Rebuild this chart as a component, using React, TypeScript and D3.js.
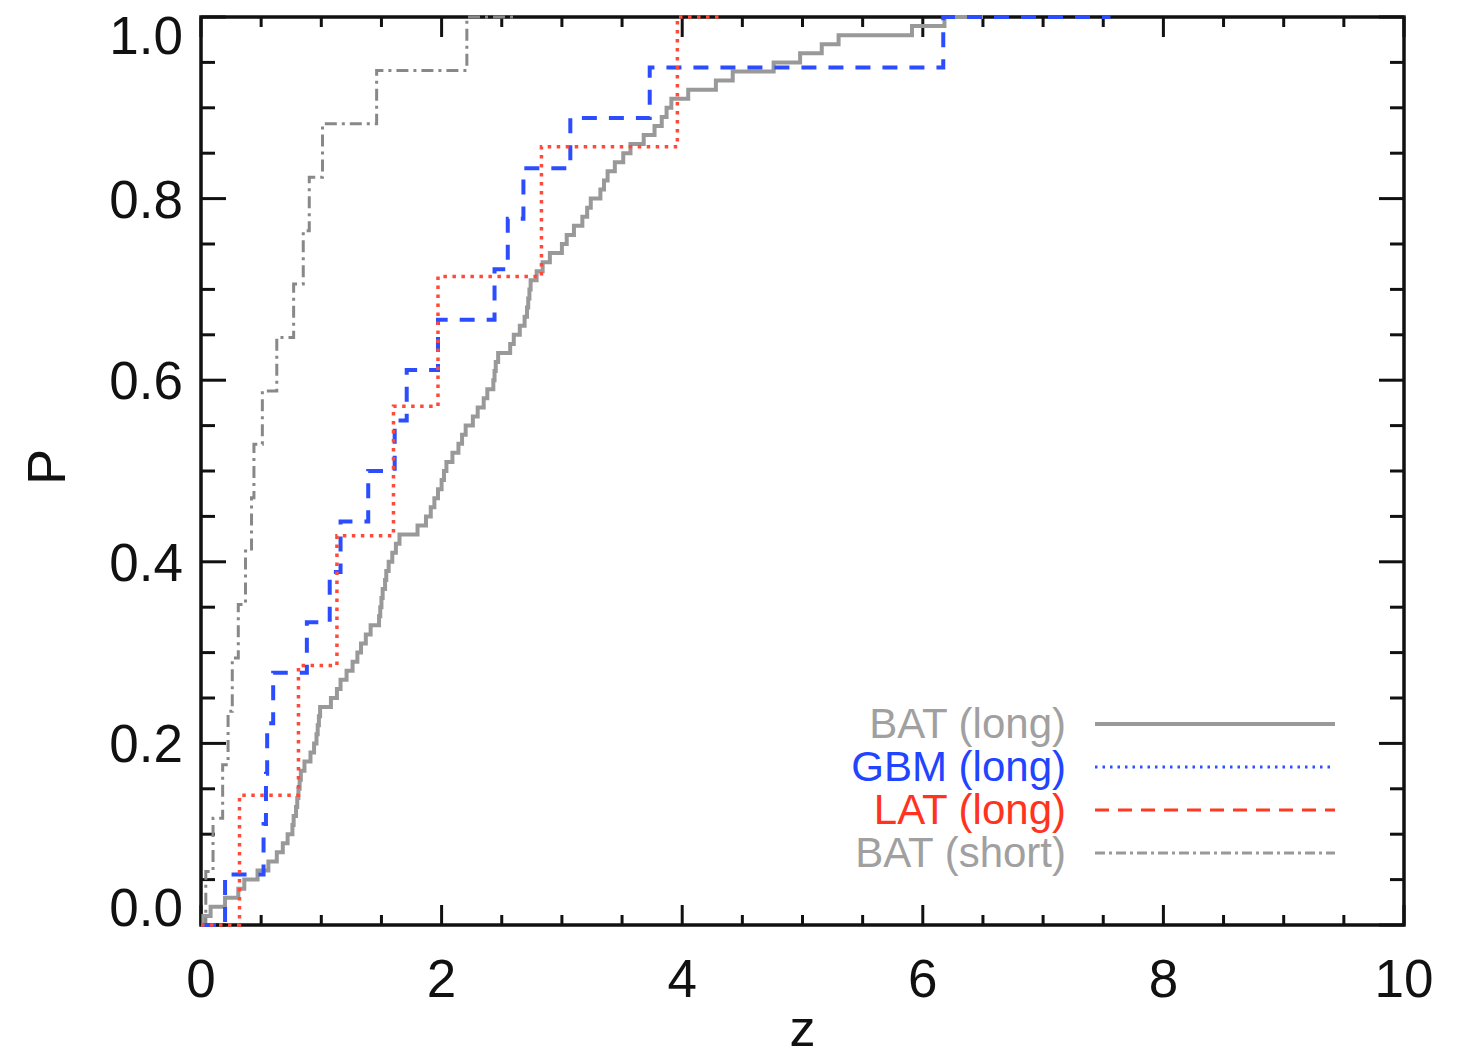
import React, { useEffect, useRef } from 'react';
import * as d3 from 'd3';

// sorted redshifts
const batLongZ = [
  0.02, 0.08, 0.2, 0.31, 0.36, 0.47, 0.56, 0.63, 0.68, 0.72,
  0.76, 0.77, 0.79, 0.8, 0.81, 0.82, 0.83, 0.86, 0.91, 0.94,
  0.96, 0.97, 0.98, 0.99, 1.08, 1.13, 1.16, 1.21, 1.26, 1.3,
  1.33, 1.37, 1.41, 1.48, 1.49, 1.5, 1.51, 1.53, 1.54, 1.56,
  1.59, 1.62, 1.65, 1.8, 1.87, 1.91, 1.94, 1.97, 2.0, 2.02,
  2.04, 2.09, 2.14, 2.17, 2.2, 2.26, 2.3, 2.35, 2.38, 2.43,
  2.44, 2.45, 2.47, 2.57, 2.6, 2.65, 2.69, 2.71, 2.72, 2.73,
  2.74, 2.79, 2.84, 2.9, 3.0, 3.04, 3.1, 3.17, 3.21, 3.24,
  3.32, 3.35, 3.38, 3.44, 3.51, 3.57, 3.68, 3.77, 3.83, 3.87,
  3.91, 4.05, 4.28, 4.42, 4.76, 4.98, 5.16, 5.3, 5.91, 6.18,
];
const gbmZ = [
  0.2, 0.52, 0.54, 0.55, 0.6, 0.88, 1.07, 1.16, 1.39, 1.61,
  1.71, 1.97, 2.44, 2.55, 2.68, 3.07, 3.73, 6.17,
];
const latZ = [0.32, 0.81, 1.13, 1.6, 1.97, 2.83, 3.96];
const batShortZ = [
  0.04, 0.1, 0.18, 0.225, 0.26, 0.31, 0.37, 0.42, 0.44, 0.51,
  0.63, 0.77, 0.85, 0.9, 1.01, 1.46, 2.21,
];
// where each curve stops along P = 1
const lineEnds = [6.5, 7.56, 4.33, 2.63];

const legendLabels = ['BAT (long)', 'GBM (long)', 'LAT (long)', 'BAT (short)'];
const xTicks = [0, 2, 4, 6, 8, 10];
const yTicks = [0, 0.2, 0.4, 0.6, 0.8, 1.0];

const FONT = '"Liberation Sans", Arial, Helvetica, sans-serif';

const App = () => {
  const chartRef = useRef<SVGSVGElement | null>(null);

  useEffect(() => {
    const width = 1458;
    const height = 1062;
    const left = 201;
    const right = 1404;
    const top = 17;
    const bottom = 925;

    const svg = d3.select(chartRef.current);
    svg.selectAll('*').remove();
    svg.attr('width', width).attr('height', height);

    const x = d3.scaleLinear().domain([0, 10]).range([left, right]);
    const y = d3.scaleLinear().domain([0, 1]).range([bottom, top]);

    // frame
    svg
      .append('rect')
      .attr('x', left)
      .attr('y', top)
      .attr('width', right - left)
      .attr('height', bottom - top)
      .attr('fill', 'none')
      .attr('stroke', '#111')
      .attr('stroke-width', 3.5);

    // ticks on all four sides
    const xMinor = d3.range(0, 10.001, 0.5);
    const yMinor = d3.range(0, 1.0001, 0.05);
    const isMajorX = (v: number) => Math.abs(v / 2 - Math.round(v / 2)) < 1e-6;
    const isMajorY = (v: number) => Math.abs(v / 0.2 - Math.round(v / 0.2)) < 1e-6;

    const tickG = svg.append('g').attr('stroke', '#111').attr('stroke-width', 3);
    xMinor.forEach((v) => {
      const len = isMajorX(v) ? 20 : 10;
      tickG.append('line').attr('x1', x(v)).attr('x2', x(v)).attr('y1', bottom).attr('y2', bottom - len);
      tickG.append('line').attr('x1', x(v)).attr('x2', x(v)).attr('y1', top).attr('y2', top + len);
    });
    yMinor.forEach((v) => {
      const len = isMajorY(v) ? 25 : 14;
      tickG.append('line').attr('x1', left).attr('x2', left + len).attr('y1', y(v)).attr('y2', y(v));
      tickG.append('line').attr('x1', right).attr('x2', right - len).attr('y1', y(v)).attr('y2', y(v));
    });

    // tick labels
    svg
      .selectAll('.xlab')
      .data(xTicks)
      .enter()
      .append('text')
      .attr('x', (d) => x(d))
      .attr('y', bottom + 72)
      .attr('text-anchor', 'middle')
      .attr('font-family', FONT)
      .attr('font-size', 53)
      .attr('fill', '#111')
      .text((d) => d);

    const fmt = d3.format('.1f');
    svg
      .selectAll('.ylab')
      .data(yTicks)
      .enter()
      .append('text')
      .attr('x', left - 18)
      .attr('y', (d) => Math.min(Math.max(y(d), top + 18), bottom - 18))
      .attr('dy', '0.36em')
      .attr('text-anchor', 'end')
      .attr('font-family', FONT)
      .attr('font-size', 53)
      .attr('fill', '#111')
      .text((d) => fmt(d));

    // axis titles
    svg
      .append('text')
      .attr('transform', `translate(65, ${(top + bottom) / 2 - 4}) rotate(-90)`)
      .attr('text-anchor', 'middle')
      .attr('font-family', FONT)
      .attr('font-size', 54)
      .attr('fill', '#111')
      .text('P');

    svg
      .append('text')
      .attr('x', (left + right) / 2)
      .attr('y', 1046)
      .attr('text-anchor', 'middle')
      .attr('font-family', FONT)
      .attr('font-size', 52)
      .attr('fill', '#111')
      .text('z');

    // cumulative step curves
    const line = d3
      .line<[number, number]>()
      .x((d) => x(d[0]))
      .y((d) => y(d[1]))
      .curve(d3.curveStepAfter);

    const ecdf = (zs: number[], end: number): [number, number][] => {
      const pts: [number, number][] = [[0, 0]];
      zs.forEach((z, i) => pts.push([z, (i + 1) / zs.length]));
      pts.push([end, 1]);
      return pts;
    };

    const series = [
      { z: batLongZ, end: lineEnds[0], color: '#999999', width: 4, dash: null },
      { z: batShortZ, end: lineEnds[3], color: '#888888', width: 3, dash: '12,5,3,5' },
      { z: gbmZ, end: lineEnds[1], color: '#2b4dff', width: 4, dash: '15,12' },
      { z: latZ, end: lineEnds[2], color: '#ff4a3a', width: 3.5, dash: '3.5,5.5' },
    ];

    series.forEach((s) => {
      svg
        .append('path')
        .datum(ecdf(s.z, s.end))
        .attr('d', line)
        .attr('fill', 'none')
        .attr('stroke', s.color)
        .attr('stroke-width', s.width)
        .attr('stroke-dasharray', s.dash);
    });

    // legend (styles as printed in the original key)
    const legendStyles = [
      { text: '#a0a0a0', stroke: '#999', width: 4, dash: null },
      { text: '#2243ff', stroke: '#3050ff', width: 3, dash: '2.5,5' },
      { text: '#ff3320', stroke: '#ff3a24', width: 3, dash: '14,9' },
      { text: '#a0a0a0', stroke: '#999', width: 3, dash: '10,4,3,4' },
    ];
    legendLabels.forEach((label, i) => {
      const ly = 724 + i * 43;
      const st = legendStyles[i];
      svg
        .append('text')
        .attr('x', 1066)
        .attr('y', ly + 14)
        .attr('text-anchor', 'end')
        .attr('font-family', FONT)
        .attr('font-size', 42)
        .attr('fill', st.text)
        .text(label);
      svg
        .append('line')
        .attr('x1', 1095)
        .attr('x2', 1335)
        .attr('y1', ly)
        .attr('y2', ly)
        .attr('stroke', st.stroke)
        .attr('stroke-width', st.width)
        .attr('stroke-dasharray', st.dash);
    });
  }, []);

  return (
    <svg
      ref={chartRef}
      style={{ position: 'absolute', left: 0, top: 0, background: '#fff' }}
    ></svg>
  );
};

export default App;
